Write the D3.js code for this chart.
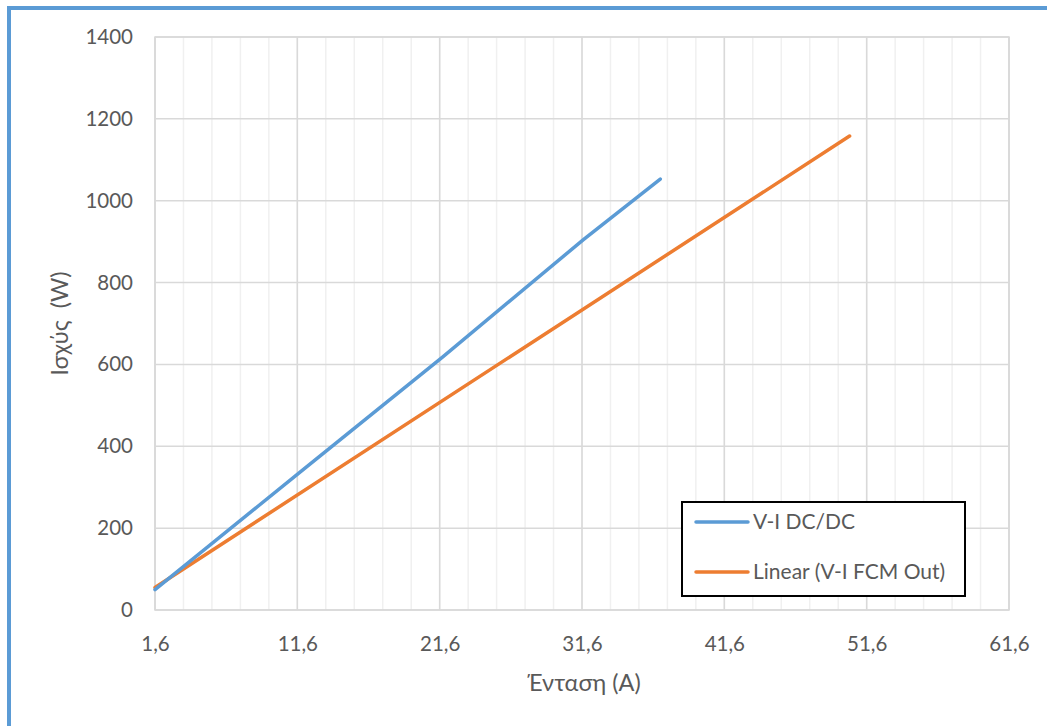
<!DOCTYPE html>
<html>
<head>
<meta charset="utf-8">
<script src="https://cdn.jsdelivr.net/npm/d3@7"></script>
<style>
    html, body { margin: 0; padding: 0; background: #fff; }
    #chart { width: 1047px; height: 726px; position: relative; }
    text { font-family: Lato, "Open Sans", sans-serif; fill: #595959; }
</style>
</head>
<body>
<div id="chart"></div>
<script>
// blue series: measured V-I DC/DC points
const dcCurrent = [1.6, 11.9, 21.8, 31.7, 37.1];
const dcPower = [50, 340, 618, 905, 1053];
// orange linear trendline end points
const fcmCurrent = [1.6, 50.4];
const fcmPower = [55, 1158];

const xTicks = [1.6, 11.6, 21.6, 31.6, 41.6, 51.6, 61.6];
const yTicks = [0, 200, 400, 600, 800, 1000, 1200, 1400];
const seriesNames = ["V-I DC/DC", "Linear (V-I FCM Out)"];
const seriesColors = ["#5B9BD5", "#ED7D31"];

const W = 1047, H = 726;
const margin = { top: 37, right: 38, bottom: 116, left: 155 };
const width = W - margin.left - margin.right;
const height = H - margin.top - margin.bottom;

const root = d3.select("#chart").append("svg")
    .attr("width", W)
    .attr("height", H);

// outer blue frame (left and top visible)
root.append("rect")
    .attr("x", 9).attr("y", 8)
    .attr("width", W + 20).attr("height", H + 20)
    .attr("fill", "none")
    .attr("stroke", "#5B9BD5")
    .attr("stroke-width", 4);

const svg = root.append("g")
    .attr("transform", `translate(${margin.left},${margin.top})`);

const x = d3.scaleLinear().domain([1.6, 61.6]).range([0, width]);
const y = d3.scaleLinear().domain([0, 1400]).range([height, 0]);

// minor vertical grid every 2
const minor = d3.range(1.6, 61.7, 2).map(v => +v.toFixed(1));
svg.append("g")
    .selectAll("line")
    .data(minor)
    .join("line")
    .attr("x1", d => x(d)).attr("x2", d => x(d))
    .attr("y1", 0).attr("y2", height)
    .attr("stroke", "#F0F0F0")
    .attr("stroke-width", 1.5);

svg.append("g")
    .selectAll("line")
    .data(xTicks)
    .join("line")
    .attr("x1", d => x(d)).attr("x2", d => x(d))
    .attr("y1", 0).attr("y2", height)
    .attr("stroke", "#D9D9D9")
    .attr("stroke-width", 1.5);

svg.append("g")
    .selectAll("line")
    .data(yTicks)
    .join("line")
    .attr("x1", 0).attr("x2", width)
    .attr("y1", d => y(d)).attr("y2", d => y(d))
    .attr("stroke", "#D9D9D9")
    .attr("stroke-width", 1.5);

svg.append("rect")
    .attr("width", width).attr("height", height)
    .attr("fill", "none")
    .attr("stroke", "#D9D9D9")
    .attr("stroke-width", 1.5);

// axes (labels only)
const xAxis = d3.axisBottom(x).tickValues(xTicks).tickSize(0).tickPadding(26)
    .tickFormat(d => d3.format(".1f")(d).replace(".", ","));
svg.append("g")
    .attr("transform", `translate(0,${height})`)
    .call(xAxis)
    .call(g => g.select(".domain").remove())
    .selectAll("text")
    .style("font-size", "20.5px")
    .attr("fill", "#595959");

const yAxis = d3.axisLeft(y).tickValues(yTicks).tickSize(0).tickPadding(22)
    .tickFormat(d3.format("d"));
svg.append("g")
    .call(yAxis)
    .call(g => g.select(".domain").remove())
    .selectAll("text")
    .style("font-size", "20.5px")
    .attr("fill", "#595959");

// axis titles
svg.append("text")
    .attr("x", width / 2 + 2)
    .attr("y", height + 81)
    .attr("text-anchor", "middle")
    .style("font-size", "23.5px")
    .text("Ένταση (A)");

svg.append("text")
    .attr("transform", `translate(${-87},${height / 2}) rotate(-90)`)
    .attr("text-anchor", "middle")
    .style("font-size", "23.5px")
    .style("white-space", "pre")
    .text("Ισχύς  (W)");

// series
const line = d3.line().x(d => x(d[0])).y(d => y(d[1]));

svg.append("path")
    .datum(d3.zip(fcmCurrent, fcmPower))
    .attr("fill", "none")
    .attr("stroke", seriesColors[1])
    .attr("stroke-width", 3.5)
    .attr("stroke-linecap", "round")
    .attr("d", line);

svg.append("path")
    .datum(d3.zip(dcCurrent, dcPower))
    .attr("fill", "none")
    .attr("stroke", seriesColors[0])
    .attr("stroke-width", 3.5)
    .attr("stroke-linecap", "round")
    .attr("stroke-linejoin", "round")
    .attr("d", line);

// legend
const legend = root.append("g").attr("transform", "translate(682,502)");
legend.append("rect")
    .attr("width", 283).attr("height", 94)
    .attr("fill", "#fff")
    .attr("stroke", "#000")
    .attr("stroke-width", 2);

seriesNames.forEach((name, i) => {
    const ly = 20 + i * 50;
    legend.append("line")
        .attr("x1", 14).attr("x2", 66)
        .attr("y1", ly).attr("y2", ly)
        .attr("stroke", seriesColors[i])
        .attr("stroke-width", 3.5)
        .attr("stroke-linecap", "round");
    legend.append("text")
        .attr("x", 71).attr("y", ly)
        .attr("dy", "0.35em")
        .style("font-size", "21px")
        .text(name);
});
</script>
</body>
</html>
